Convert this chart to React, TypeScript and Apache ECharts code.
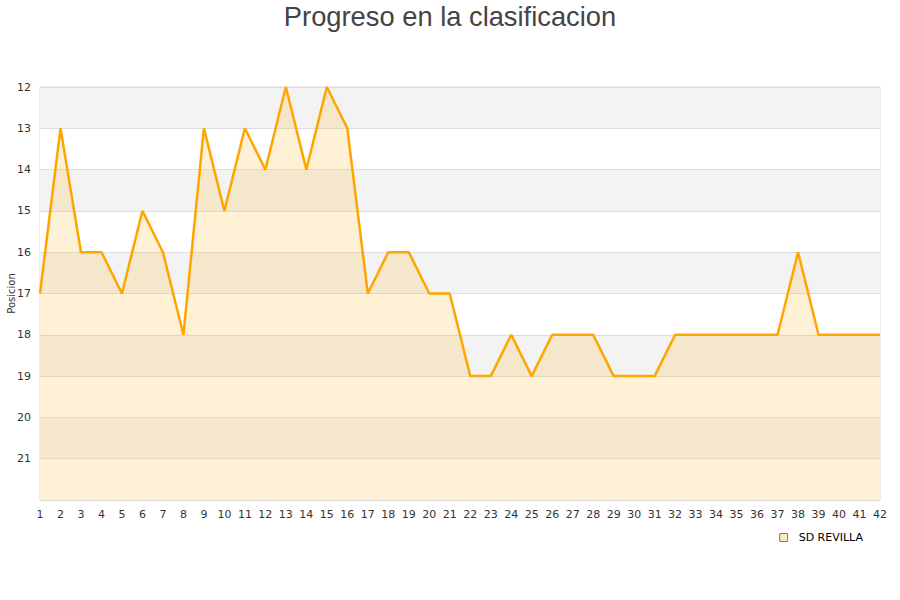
import React, { useEffect, useRef } from "react";
import * as echarts from "echarts";

const jornadas = Array.from({ length: 42 }, (_, i) => String(i + 1));
const posiciones = [
  17, 13, 16, 16, 17, 15, 16, 18, 13, 15, 13, 14, 12, 14, 12, 13, 17, 16, 16, 17, 17,
  19, 19, 18, 19, 18, 18, 18, 19, 19, 19, 18, 18, 18, 18, 18, 18, 16, 18, 18, 18, 18,
];
const teamName = "SD REVILLA";
const titleText = "Progreso en la clasificacion";

export default function App() {
  const ref = useRef<HTMLDivElement>(null);
  useEffect(() => {
    if (!ref.current) return;
    const chart = echarts.init(ref.current, undefined, { renderer: "svg" });
    chart.setOption({
      animation: false,
      title: {
        text: titleText,
        left: "center",
        top: -2,
        textStyle: { fontFamily: "Liberation Sans, Arial, sans-serif", fontSize: 27.3, fontWeight: "normal", color: "#444" },
      },
      grid: {
        left: 40,
        right: 20,
        top: 87,
        bottom: 100,
        show: true,
        borderColor: "#ddd",
        borderWidth: 1,
        outerBoundsMode: "none",
        containLabel: false,
      },
      legend: {
        right: 32,
        top: 527,
        itemWidth: 8,
        itemHeight: 8,
        itemGap: 6,
        textStyle: { fontFamily: "DejaVu Sans, sans-serif", fontSize: 11, color: "#000", padding: [0, 0, 0, 6] },
        data: [{ name: teamName, icon: "rect", itemStyle: { color: "#fde7c0", borderColor: "#8a7a5a", borderWidth: 1 } }],
      },
      xAxis: {
        type: "category",
        data: jornadas,
        boundaryGap: false,
        axisLine: { show: false },
        axisTick: { show: false },
        axisLabel: { interval: 0, fontFamily: "DejaVu Sans, sans-serif", fontSize: 11, color: "#333", margin: 9 },
        splitLine: { show: false },
      },
      yAxis: {
        type: "value",
        inverse: true,
        min: 12,
        max: 22,
        interval: 1,
        name: "Posicion",
        nameLocation: "middle",
        nameGap: 24,
        nameMoveOverlap: false,
        nameTextStyle: { fontFamily: "DejaVu Sans, sans-serif", fontSize: 10, color: "#333" },
        axisLine: { show: false },
        axisTick: { show: false },
        axisLabel: {
          fontFamily: "DejaVu Sans, sans-serif",
          fontSize: 11,
          color: "#333",
          margin: 9,
          formatter: (v: number) => (v === 22 ? "" : String(v)),
        },
        splitLine: { show: true, lineStyle: { color: "#ddd" } },
        splitArea: { show: true, areaStyle: { color: ["#f3f3f3", "#ffffff"] } },
      },
      series: [
        {
          name: teamName,
          type: "line",
          data: posiciones,
          symbol: "none",
          lineStyle: { color: "#ffa500", width: 2.5 },
          itemStyle: { color: "#ffa500" },
          areaStyle: { origin: "end", color: "rgba(255,190,60,0.3)" },
        },
      ],
    });
    return () => chart.dispose();
  }, []);
  return <div ref={ref} style={{ width: 900, height: 600, position: "absolute", left: 0, top: 0 }} />;
}
